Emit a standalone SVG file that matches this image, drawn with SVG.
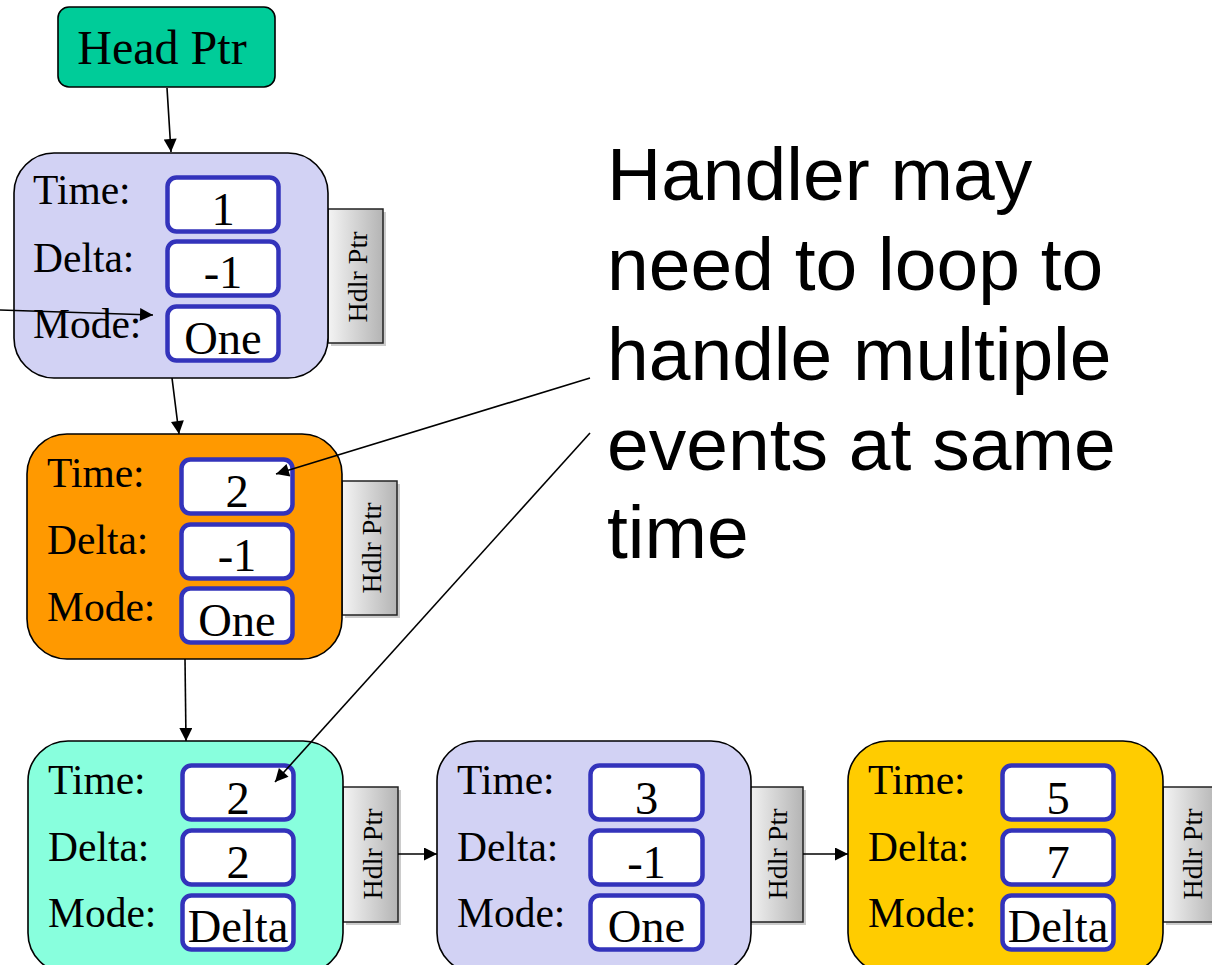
<svg xmlns="http://www.w3.org/2000/svg" width="1212" height="965" viewBox="0 0 1212 965">
  <defs>
    <linearGradient id="hdlrFill" x1="0" y1="0" x2="1" y2="0">
      <stop offset="0" stop-color="#F4F4F4"/>
      <stop offset="1" stop-color="#B4B4B4"/>
    </linearGradient>
    <marker id="arrow" viewBox="0 0 10 10" refX="10" refY="5" markerUnits="userSpaceOnUse" markerWidth="16" markerHeight="13" orient="auto">
      <path d="M0,0 L10,5 L0,10 z" fill="#000"/>
    </marker>
    <style>
      .node { stroke: #000; stroke-width: 1.6; }
      .field { fill: #fff; stroke: #3333BB; stroke-width: 4.5; }
      .label { font-family: "Liberation Serif", "Times New Roman", serif; font-size: 41.5px; fill: #000; }
      .value { font-family: "Liberation Serif", "Times New Roman", serif; font-size: 46.5px; fill: #000; text-anchor: middle; }
      .hdlr { fill: url(#hdlrFill); stroke: #222; stroke-width: 1.5; }
      .hdlr-shadow { fill: #CCCCCC; }
      .hdlr-text { font-family: "Liberation Serif", "Times New Roman", serif; font-size: 28px; fill: #000; text-anchor: middle; dominant-baseline: central; }
      .wire { stroke: #000; stroke-width: 1.6; fill: none; marker-end: url(#arrow); }
      .note { font-family: "Liberation Sans", Arial, sans-serif; font-size: 75px; fill: #000; }
    </style>
  </defs>

  <rect width="1212" height="965" fill="#fff"/>

  <!-- list head -->
  <g id="head-ptr">
    <rect x="58" y="7" width="217" height="80" rx="11" fill="#00CC99" stroke="#000" stroke-width="1.6"/>
    <text x="162" y="64" font-family="Liberation Serif, Times New Roman, serif" font-size="48" text-anchor="middle">Head Ptr</text>
  </g>

  <!-- event 1 -->
  <g id="event-1">
    <rect class="hdlr-shadow" x="331" y="212" width="55" height="134"/>
    <rect class="hdlr" x="328" y="209" width="55" height="134"/>
    <text class="hdlr-text" transform="translate(357 277) rotate(-90)">Hdlr Ptr</text>
    <rect class="node" x="14" y="153" width="314" height="225" rx="40" fill="#D2D2F4"/>
    <text class="label" x="33" y="204">Time:</text>
    <text class="label" x="33" y="272">Delta:</text>
    <text class="label" x="33" y="338">Mode:</text>
    <rect class="field" x="167.5" y="177.5" width="111" height="54" rx="9"/>
    <rect class="field" x="167.5" y="241.5" width="111" height="54" rx="9"/>
    <rect class="field" x="167.5" y="306.5" width="111" height="54" rx="9"/>
    <text class="value" x="223" y="225">1</text>
    <text class="value" x="223" y="288">-1</text>
    <text class="value" x="223" y="354">One</text>
  </g>

  <!-- event 2 -->
  <g id="event-2">
    <rect class="hdlr-shadow" x="345" y="484" width="55" height="134"/>
    <rect class="hdlr" x="342" y="481" width="55" height="134"/>
    <text class="hdlr-text" transform="translate(371 548) rotate(-90)">Hdlr Ptr</text>
    <rect class="node" x="27" y="434" width="315" height="225" rx="40" fill="#FF9900"/>
    <text class="label" x="47" y="487">Time:</text>
    <text class="label" x="47" y="554">Delta:</text>
    <text class="label" x="47" y="621">Mode:</text>
    <rect class="field" x="181.5" y="459.5" width="111" height="54" rx="9"/>
    <rect class="field" x="181.5" y="524.5" width="111" height="54" rx="9"/>
    <rect class="field" x="181.5" y="588.5" width="111" height="54" rx="9"/>
    <text class="value" x="237" y="507">2</text>
    <text class="value" x="237" y="571">-1</text>
    <text class="value" x="237" y="636">One</text>
  </g>

  <!-- event 3 -->
  <g id="event-3">
    <rect class="hdlr-shadow" x="346" y="790" width="55" height="135"/>
    <rect class="hdlr" x="343" y="787" width="55" height="135"/>
    <text class="hdlr-text" transform="translate(372 854) rotate(-90)">Hdlr Ptr</text>
    <rect class="node" x="28" y="741" width="315" height="232" rx="40" fill="#88FFDD"/>
    <text class="label" x="48" y="794">Time:</text>
    <text class="label" x="48" y="861">Delta:</text>
    <text class="label" x="48" y="927">Mode:</text>
    <rect class="field" x="182.5" y="765.5" width="111" height="54" rx="9"/>
    <rect class="field" x="182.5" y="830.5" width="111" height="54" rx="9"/>
    <rect class="field" x="182.5" y="895.5" width="111" height="54" rx="9"/>
    <text class="value" x="238" y="814">2</text>
    <text class="value" x="238" y="878">2</text>
    <text class="value" x="238" y="942">Delta</text>
  </g>

  <!-- event 4 -->
  <g id="event-4">
    <rect class="hdlr-shadow" x="751" y="790" width="55" height="135"/>
    <rect class="hdlr" x="748" y="787" width="55" height="135"/>
    <text class="hdlr-text" transform="translate(777 854) rotate(-90)">Hdlr Ptr</text>
    <rect class="node" x="437" y="741" width="314" height="232" rx="40" fill="#D2D2F4"/>
    <text class="label" x="457" y="794">Time:</text>
    <text class="label" x="457" y="861">Delta:</text>
    <text class="label" x="457" y="927">Mode:</text>
    <rect class="field" x="590.5" y="765.5" width="112" height="54" rx="9"/>
    <rect class="field" x="590.5" y="830.5" width="112" height="54" rx="9"/>
    <rect class="field" x="590.5" y="895.5" width="112" height="54" rx="9"/>
    <text class="value" x="646.5" y="814">3</text>
    <text class="value" x="646.5" y="878">-1</text>
    <text class="value" x="646.5" y="942">One</text>
  </g>

  <!-- event 5 -->
  <g id="event-5">
    <rect class="hdlr-shadow" x="1166" y="790" width="55" height="135"/>
    <rect class="hdlr" x="1163" y="787" width="55" height="135"/>
    <text class="hdlr-text" transform="translate(1192 854) rotate(-90)">Hdlr Ptr</text>
    <rect class="node" x="848" y="741" width="315" height="232" rx="40" fill="#FFCC00"/>
    <text class="label" x="868" y="794">Time:</text>
    <text class="label" x="868" y="861">Delta:</text>
    <text class="label" x="868" y="927">Mode:</text>
    <rect class="field" x="1002.5" y="765.5" width="111" height="54" rx="9"/>
    <rect class="field" x="1002.5" y="830.5" width="111" height="54" rx="9"/>
    <rect class="field" x="1002.5" y="895.5" width="111" height="54" rx="9"/>
    <text class="value" x="1058" y="814">5</text>
    <text class="value" x="1058" y="878">7</text>
    <text class="value" x="1058" y="942">Delta</text>
  </g>

  <!-- annotation -->
  <g id="note">
    <text class="note" x="607" y="200">Handler may</text>
    <text class="note" x="607" y="290">need to loop to</text>
    <text class="note" x="607" y="380">handle multiple</text>
    <text class="note" x="607" y="470">events at same</text>
    <text class="note" x="607" y="558">time</text>
  </g>

  <!-- pointers between entries -->
  <g id="connectors">
    <path class="wire" d="M167,88 L171,152"/>
    <path class="wire" d="M0,310 L153,315"/>
    <path class="wire" d="M172,378 L179,434"/>
    <path class="wire" d="M185,659 L186,741"/>
    <path class="wire" d="M398,854 L437,854"/>
    <path class="wire" d="M803,854 L848,854"/>
    <path class="wire" d="M590,378 L276,474"/>
    <path class="wire" d="M590,433 L275,782"/>
  </g>
</svg>
